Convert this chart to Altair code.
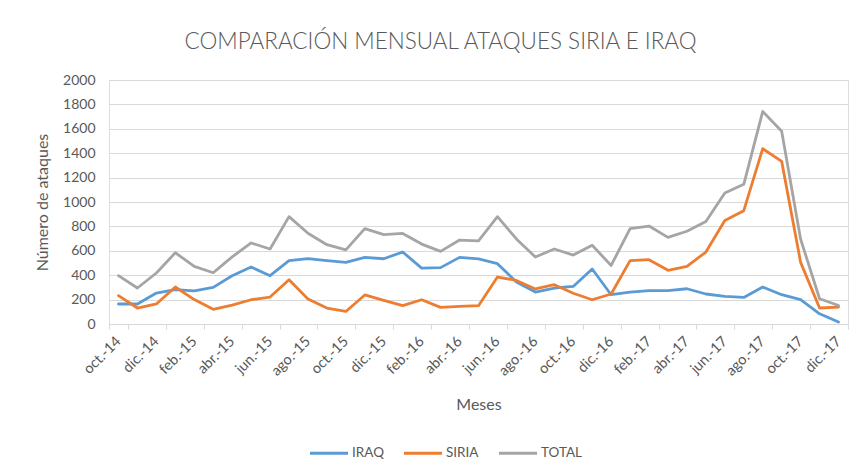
import altair as alt
import pandas as pd

meses = ["oct.-14", "nov.-14", "dic.-14", "ene.-15", "feb.-15", "mar.-15", "abr.-15", "may.-15",
         "jun.-15", "jul.-15", "ago.-15", "sep.-15", "oct.-15", "nov.-15", "dic.-15", "ene.-16",
         "feb.-16", "mar.-16", "abr.-16", "may.-16", "jun.-16", "jul.-16", "ago.-16", "sep.-16",
         "oct.-16", "nov.-16", "dic.-16", "ene.-17", "feb.-17", "mar.-17", "abr.-17", "may.-17",
         "jun.-17", "jul.-17", "ago.-17", "sep.-17", "oct.-17", "nov.-17", "dic.-17"]

iraq = [164, 164, 254, 281, 272, 300, 395, 467, 396, 519, 535, 519, 505, 546, 535, 590,
        458, 462, 546, 533, 494, 345, 262, 295, 308, 451, 240, 262, 273, 273, 289, 246,
        226, 218, 303, 240, 199, 84, 16]
siria = [232, 131, 164, 303, 200, 120, 155, 199, 221, 363, 205, 131, 103, 238, 194, 150,
         199, 136, 144, 150, 385, 357, 287, 322, 252, 199, 246, 519, 527, 440, 472, 590,
         849, 929, 1437, 1333, 505, 131, 139]
total = [396, 295, 418, 584, 472, 420, 550, 664, 615, 880, 744, 650, 608, 782, 732, 742,
         655, 595, 688, 682, 880, 697, 549, 615, 565, 645, 480, 781, 803, 710, 760, 840,
         1074, 1145, 1742, 1580, 695, 207, 152]

series = ["IRAQ", "SIRIA", "TOTAL"]
colores = ["#5B9BD5", "#ED7D31", "#A5A5A5"]
y_ticks = [0, 200, 400, 600, 800, 1000, 1200, 1400, 1600, 1800, 2000]

rows = []
for nombre, valores in zip(series, [iraq, siria, total]):
    for orden, (mes, v) in enumerate(zip(meses, valores)):
        rows.append({"Mes": mes, "Serie": nombre, "Ataques": v, "orden": orden})
df = pd.DataFrame(rows)

FONT = "Lato"
TXT = "#595959"

chart = alt.Chart(df).mark_line(strokeWidth=2.8, strokeJoin="round", strokeCap="round").encode(
    x=alt.X("Mes:N", sort=meses,
            scale=alt.Scale(type="band", paddingInner=0, paddingOuter=0),
            axis=alt.Axis(title="Meses", values=meses[::2], labelAngle=-45, labelAlign="right",
                          labelBaseline="middle", labelPadding=10, tickBand="extent",
                          tickSize=5, tickColor="#d9d9d9", domainColor="#d9d9d9",
                          labelColor=TXT, labelFont=FONT, labelFontSize=14.5,
                          titleColor=TXT, titleFont=FONT, titleFontSize=16,
                          titleFontWeight="normal", titlePadding=19, grid=False)),
    y=alt.Y("Ataques:Q", scale=alt.Scale(domain=[0, 2000], nice=False),
            axis=alt.Axis(title="Número de ataques", values=y_ticks, format="d", domain=False, ticks=False,
                          labelColor=TXT, labelFont=FONT, labelFontSize=14, labelPadding=14,
                          titleColor=TXT, titleFont=FONT, titleFontSize=16,
                          titleFontWeight="normal", titlePadding=12,
                          gridColor="#d9d9d9", gridWidth=1)),
    color=alt.Color("Serie:N", scale=alt.Scale(domain=series, range=colores),
                    legend=alt.Legend(title=None, orient="none", direction="horizontal",
                                      legendX=199, legendY=352,
                                      symbolType="stroke", symbolSize=1450, symbolStrokeWidth=3,
                                      labelColor=TXT, labelFont=FONT, labelFontSize=13.5,
                                      labelOffset=2, columnPadding=13)),
    order=alt.Order("orden:Q"),
).properties(
    width=739, height=244,
    title=alt.TitleParams("COMPARACIÓN MENSUAL ATAQUES SIRIA E IRAQ", anchor="middle", dx=-38,
                          font=FONT, fontSize=22.5, fontWeight=300, color=TXT, offset=20),
    autosize=alt.AutoSizeParams(type="none"),
    padding={"left": 101, "top": 72, "right": 9, "bottom": 150},
).configure_view(stroke=None).configure(background="white")

chart.save("out.html", embed_options={"renderer": "svg", "actions": False})
